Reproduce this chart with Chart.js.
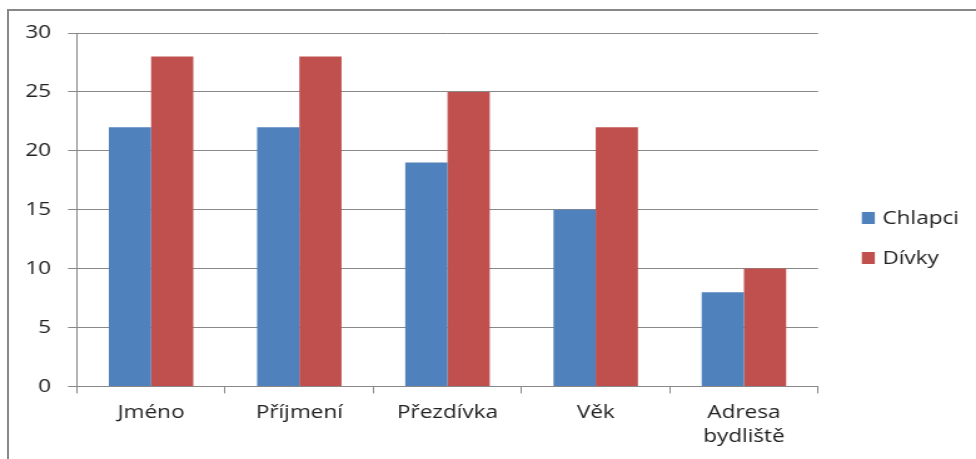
<!DOCTYPE html>
<html><head><meta charset="utf-8">
<script src="https://cdn.jsdelivr.net/npm/chart.js@4"></script>
<style>
html,body{margin:0;padding:0;background:#fff;overflow:hidden;width:976px;height:459px}
#frame{position:absolute;left:7px;top:9px;width:990px;height:470px;border-left:2px solid #888;border-top:2px solid #888}
#wrap{position:absolute;left:0;top:0;width:780px;height:459px;transform:scaleX(1.2513);transform-origin:0 0}
canvas{display:block}
</style></head><body>
<div id="frame"></div>
<div id="wrap"><canvas id="c" width="780" height="459"></canvas></div>
<script>
const categories = ['Jméno', 'Příjmení', 'Přezdívka', 'Věk', ['Adresa', 'bydliště']];
const seriesNames = ['Chlapci', 'Dívky'];
const chlapci = [22, 22, 19, 15, 8];
const divky = [28, 28, 25, 22, 10];
const yMin = 0, yMax = 30, yStep = 5;

const S = 1.2513;
const FONT = {family: "'Open Sans', sans-serif", size: 18, lineHeight: 1.33};
const TEXT = '#222';
const GRID = '#888';

const sideLegend = {
  id: 'sideLegend',
  afterDraw(chart) {
    const ctx = chart.ctx;
    const ca = chart.chartArea;
    const centers = [218, 258];
    ctx.save();
    ctx.font = FONT.size + "px 'Open Sans', sans-serif";
    ctx.textBaseline = 'middle';
    chart.data.datasets.forEach((ds, i) => {
      const cy = centers[i];
      ctx.fillStyle = ds.backgroundColor;
      ctx.fillRect(ca.right + 35, cy - 6, 13 / S, 12);
      ctx.fillStyle = TEXT;
      ctx.fillText(ds.label, ca.right + 51.5, cy + 0.5);
    });
    ctx.restore();
  }
};

new Chart(document.getElementById('c'), {
  type: 'bar',
  data: {
    labels: categories,
    datasets: [
      {label: seriesNames[0], data: chlapci, backgroundColor: '#4F81BD', borderWidth: 0},
      {label: seriesNames[1], data: divky, backgroundColor: '#C0504D', borderWidth: 0}
    ]
  },
  options: {
    responsive: false,
    animation: false,
    events: [],
    layout: {padding: {left: 0, right: 780 - 818 / S, top: 33, bottom: 0}},
    datasets: {bar: {barPercentage: 1, categoryPercentage: 0.57}},
    plugins: {legend: {display: false}, tooltip: {enabled: false}},
    scales: {
      x: {
        offset: true,
        grid: {display: true, drawOnChartArea: false, drawTicks: true, tickLength: 7, color: GRID, offset: true},
        border: {display: true, color: GRID, width: 1},
        ticks: {color: TEXT, font: FONT, padding: 8, maxRotation: 0, autoSkip: false},
        afterFit: s => { s.height = 459 - 386.4; }
      },
      y: {
        min: yMin, max: yMax,
        grid: {color: GRID, tickLength: 9 / S, drawTicks: true},
        border: {display: true, color: GRID, width: 1},
        ticks: {stepSize: yStep, color: TEXT, font: FONT, padding: 17 / S},
        afterFit: s => { s.width = 77 / S; }
      }
    }
  },
  plugins: [sideLegend]
});
</script>
</body></html>
